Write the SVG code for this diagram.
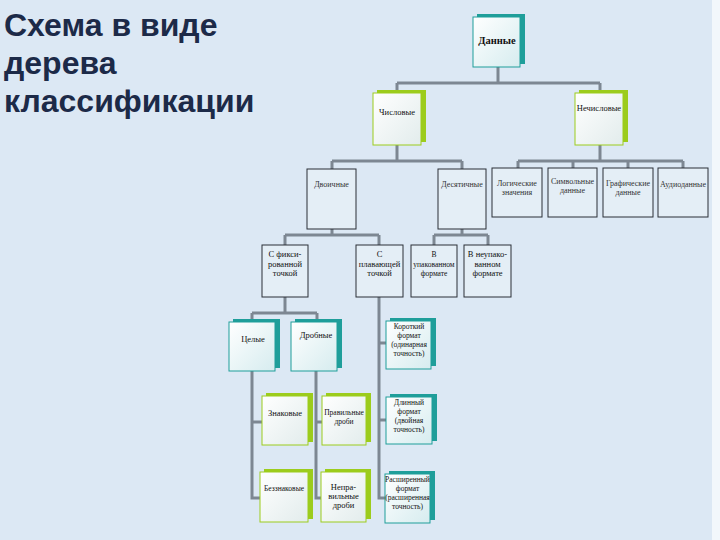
<svg xmlns="http://www.w3.org/2000/svg" width="720" height="540" viewBox="0 0 720 540">
<defs>
<linearGradient id="lf" x1="0" y1="0" x2="1" y2="1">
<stop offset="0" stop-color="#ffffff"/>
<stop offset="1" stop-color="#d6ecef"/>
</linearGradient>
<linearGradient id="lg" x1="0" y1="0" x2="1" y2="1">
<stop offset="0" stop-color="#ffffff"/>
<stop offset="1" stop-color="#e2ecec"/>
</linearGradient>
<style>
.bg{fill:#dce8f4}
.title{font-family:"Liberation Sans",Arial,sans-serif;font-weight:bold;font-size:32px;fill:#1c2a48}
.c{fill:none;stroke:#7d8792;stroke-width:3}
.tb{fill:#1f9e9a}
.gb{fill:#9ccc1c}
.tl{fill:url(#lf);stroke:#1f9e9a;stroke-width:1}
.gl{fill:url(#lg);stroke:#9ccc1c;stroke-width:1}
.pl{fill:#e4eef6;stroke:#2a2f36;stroke-width:1}
.t{font-family:"Liberation Serif","Times New Roman",serif;font-size:8.5px;fill:#111;text-anchor:middle}
.s{font-size:7.5px}
.tp{font-family:"Liberation Serif","Times New Roman",serif;font-size:8px;fill:#333;text-anchor:middle}
.b{font-weight:bold;font-size:10.5px}
</style>
</defs>
<rect class="bg" x="0" y="0" width="720" height="540"/>
<rect x="712" y="0" width="8" height="540" fill="#f2f7fb"/>
<g id="title">
<text class="title" x="4" y="36">Схема в виде</text>
<text class="title" x="4" y="74">дерева</text>
<text class="title" x="4" y="112">классификации</text>
</g>
<g id="connectors">
<path class="c" d="M498 67V83M397 83H600M397 83V90M600 83V90"/>
<path class="c" d="M397 145V161M332 161H462M332 161V169M462 161V169"/>
<path class="c" d="M600 145V161M518 161H683M518 161V168M573 161V168M628 161V168M683 161V168"/>
<path class="c" d="M332 229V235M285 235H379M285 235V245M379 235V245"/>
<path class="c" d="M462 229V235M434 235H488M434 235V245M488 235V245"/>
<path class="c" d="M285 297V313M252 313H317M252 313V320M317 313V320"/>
<path class="c" d="M252 371V498H261M252 422H263"/>
<path class="c" d="M316 371V498H322M316 422H323"/>
<path class="c" d="M379 297V498H386M379 343H387M379 420H387"/>
</g>
<g id="n-dannye"><rect class="tb" x="477" y="14" width="48" height="50"/><rect class="tl" x="473" y="17" width="47" height="50"/><text class="t b" x="497" y="44">Данные</text></g>
<g id="n-chislovye"><rect class="gb" x="377" y="90" width="49" height="52"/><rect class="gl" x="373" y="93" width="48" height="52"/><text class="t" x="397" y="115" font-size="9">Числовые</text></g>
<g id="n-nechislovye"><rect class="gb" x="579" y="90" width="49" height="52"/><rect class="gl" x="575" y="93" width="48" height="52"/><text class="t" x="599" y="111" font-size="9">Нечисловые</text></g>
<g id="n-dvoichnye"><rect class="pl" x="307" y="169" width="49" height="60"/><text class="tp" x="331.5" y="187">Двоичные</text></g>
<g id="n-desyatichnye"><rect class="pl" x="438" y="169" width="48" height="60"/><text class="tp" x="462" y="187">Десятичные</text></g>
<g id="n-logicheskie"><rect class="pl" x="492" y="168" width="50" height="49"/><text class="tp" x="517" y="186">Логические</text><text class="tp" x="517" y="195">значения</text></g>
<g id="n-simvolnye"><rect class="pl" x="548" y="168" width="49" height="49"/><text class="tp" x="572.5" y="184">Символьные</text><text class="tp" x="572.5" y="193">данные</text></g>
<g id="n-graficheskie"><rect class="pl" x="603" y="168" width="50" height="49"/><text class="tp" x="628" y="186">Графические</text><text class="tp" x="628" y="195">данные</text></g>
<g id="n-audio"><rect class="pl" x="658" y="168" width="50" height="49"/><text class="tp" x="683" y="187">Аудиоданные</text></g>
<g id="n-fiks"><rect class="pl" x="262" y="245" width="46" height="52"/><text class="t" x="285" y="257">С фикси-</text><text class="t" x="285" y="266.5">рованной</text><text class="t" x="285" y="276">точкой</text></g>
<g id="n-plav"><rect class="pl" x="356" y="245" width="47" height="52"/><text class="t" x="379.5" y="257">С</text><text class="t" x="379.5" y="266.5">плавающей</text><text class="t" x="379.5" y="276">точкой</text></g>
<g id="n-upak"><rect class="pl" x="411" y="245" width="46" height="52"/><text class="t s" x="434" y="257">В</text><text class="t s" x="434" y="266.5">упакованном</text><text class="t s" x="434" y="276">формате</text></g>
<g id="n-neupak"><rect class="pl" x="464" y="245" width="47" height="52"/><text class="t" x="487.5" y="257">В неупако-</text><text class="t" x="487.5" y="266.5">ванном</text><text class="t" x="487.5" y="276">формате</text></g>
<g id="n-celye"><rect class="tb" x="233" y="319" width="47" height="49"/><rect class="tl" x="229" y="322" width="46" height="49"/><text class="t" x="253" y="342">Целые</text></g>
<g id="n-drobnye"><rect class="tb" x="295" y="319" width="47" height="49"/><rect class="tl" x="291" y="322" width="46" height="49"/><text class="t" x="316" y="338">Дробные</text></g>
<g id="n-korotkiy"><rect class="tb" x="390" y="318" width="46" height="48"/><rect class="tl" x="386" y="321" width="45" height="48"/><text class="t s" x="409" y="329">Короткий</text><text class="t s" x="409" y="338">формат</text><text class="t s" x="409" y="347">(одинарная</text><text class="t s" x="409" y="356">точность)</text></g>
<g id="n-znakovye"><rect class="gb" x="266" y="393" width="47" height="49"/><rect class="gl" x="262" y="396" width="46" height="49"/><text class="t" x="285" y="416">Знаковые</text></g>
<g id="n-pravilnye"><rect class="gb" x="326" y="393" width="45" height="49"/><rect class="gl" x="322" y="396" width="44" height="49"/><text class="t s" x="344" y="415">Правильные</text><text class="t s" x="344" y="424">дроби</text></g>
<g id="n-dlinnyy"><rect class="tb" x="390" y="394" width="47" height="47"/><rect class="tl" x="386" y="397" width="46" height="47"/><text class="t s" x="409" y="405">Длинный</text><text class="t s" x="409" y="414">формат</text><text class="t s" x="409" y="423">(двойная</text><text class="t s" x="409" y="432">точность)</text></g>
<g id="n-bezznakovye"><rect class="gb" x="264" y="469" width="49" height="50"/><rect class="gl" x="260" y="472" width="48" height="50"/><text class="t s" x="284" y="491">Беззнаковые</text></g>
<g id="n-nepravilnye"><rect class="gb" x="325" y="469" width="46" height="50"/><rect class="gl" x="321" y="472" width="45" height="50"/><text class="t" x="343.5" y="490">Непра-</text><text class="t" x="343.5" y="499">вильные</text><text class="t" x="343.5" y="508">дроби</text></g>
<g id="n-rasshirennyy"><rect class="tb" x="389" y="471" width="46" height="49"/><rect class="tl" x="385" y="474" width="45" height="49"/><text class="t s" x="407.5" y="482">Расширенный</text><text class="t s" x="407.5" y="491">формат</text><text class="t s" x="407.5" y="500">(расширенная</text><text class="t s" x="407.5" y="509">точность)</text></g>
</svg>
